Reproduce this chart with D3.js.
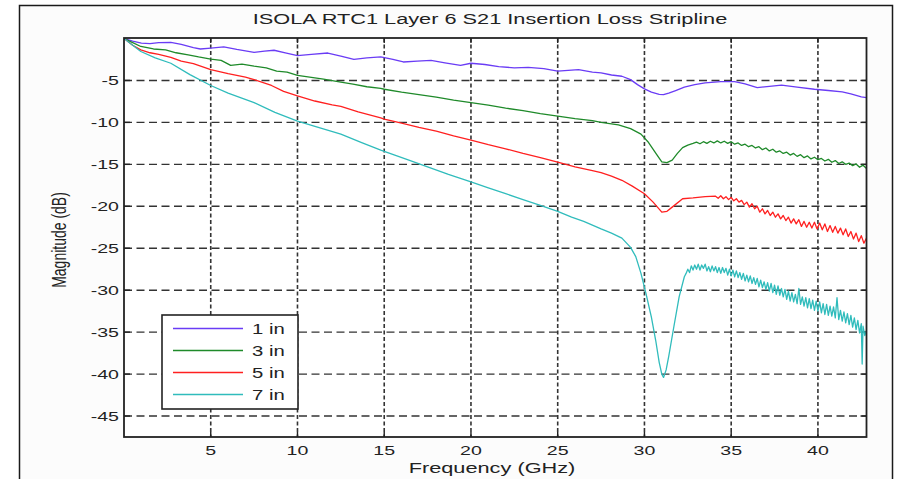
<!DOCTYPE html>
<html>
<head>
<meta charset="utf-8">
<script src="https://cdn.jsdelivr.net/npm/d3@7"></script>
<style>
  body { margin: 0; background: #fff; }
  svg { display: block; }
  text { font-family: "Liberation Sans", Arial, sans-serif; fill: #222; }
</style>
</head>
<body>
<svg width="906" height="479"></svg>
<script>
// values, [GHz, dB]
var series1in = [[0,0],[0.5,-0.3],[1,-0.55],[1.5,-0.6],[2,-0.5],[2.7,-0.45],[3.3,-0.7],[4,-1.1],[4.4,-1.25],[5,-1.15],[5.75,-1.0],[6.5,-1.3],[7.5,-1.65],[8.1,-1.5],[8.65,-1.4],[9.3,-1.7],[10,-2.05],[10.8,-1.9],[11.75,-1.73],[12.5,-2.1],[13.25,-2.5],[14,-2.3],[14.8,-2.2],[15.5,-2.5],[16.1,-2.8],[16.9,-2.7],[17.7,-2.6],[18.5,-2.9],[19.4,-3.2],[20,-2.95],[20.8,-3.1],[21.6,-3.35],[22.5,-3.5],[23.3,-3.45],[24.2,-3.6],[25,-3.9],[25.6,-3.8],[26.2,-3.7],[27,-4.0],[27.5,-4.1],[28.1,-4.35],[28.7,-4.5],[29.2,-4.9],[29.6,-5.5],[30,-6.0],[30.4,-6.4],[30.85,-6.65],[31.1,-6.7],[31.4,-6.5],[31.8,-6.2],[32.3,-5.8],[32.9,-5.5],[33.5,-5.3],[34.4,-5.15],[35.2,-5.15],[35.8,-5.4],[36.5,-5.85],[37.2,-5.7],[37.9,-5.55],[38.8,-5.8],[39.8,-6.05],[40.6,-6.2],[41.4,-6.35],[41.9,-6.6],[42.5,-6.95],[42.8,-7.05]]

var series3in = [[0,0],[0.5,-0.5],[0.97,-0.95],[1.7,-1.25],[2.4,-1.35],[3,-1.7],[3.7,-1.95],[4.3,-2.2],[5,-2.45],[5.6,-2.6],[6.15,-3.2],[6.8,-3.05],[7.5,-3.3],[8.2,-3.5],[8.8,-3.9],[9.4,-4.0],[10,-4.4],[10.7,-4.6],[11.5,-4.85],[12.5,-5.2],[13.2,-5.45],[14,-5.75],[14.8,-5.95],[15,-6.05],[16,-6.4],[17,-6.7],[18,-7.0],[19,-7.35],[20,-7.65],[21,-7.95],[22,-8.3],[23,-8.6],[24,-8.95],[25,-9.25],[26,-9.55],[27,-9.8],[27.5,-10.0],[28.5,-10.3],[29.2,-10.75],[29.8,-11.4],[30.2,-12.3],[30.7,-13.8],[31,-14.7],[31.3,-14.8],[31.6,-14.5],[31.9,-13.7],[32.2,-13.0],[32.5,-12.7],
  [32.8,-12.5],[33.0,-12.35],[33.2,-12.55],[33.4,-12.3],[33.6,-12.5],[33.8,-12.25],[34.0,-12.45],[34.2,-12.2],[34.4,-12.45],[34.6,-12.25],[34.8,-12.5],[35.0,-12.3],[35.2,-12.6],[35.4,-12.45],[35.6,-12.75],[35.8,-12.6],[36.0,-12.9],[36.2,-12.75],[36.4,-13.05],[36.6,-12.9],[36.8,-13.25],[37.0,-13.05],[37.2,-13.4],[37.4,-13.2],[37.6,-13.55],[37.8,-13.4],[38.0,-13.7],[38.2,-13.55],[38.4,-13.9],[38.6,-13.7],[38.8,-14.05],[39.0,-13.85],[39.2,-14.2],[39.4,-14.0],[39.6,-14.35],[39.8,-14.15],[40.0,-14.45],[40.2,-14.3],[40.4,-14.6],[40.6,-14.4],[40.8,-14.75],[41.0,-14.55],[41.2,-14.9],[41.4,-14.7],[41.6,-15.0],[41.8,-14.85],[42.0,-15.15],[42.2,-14.95],[42.4,-15.35],[42.6,-15.1],[42.8,-15.5]]

var series5in = [[0,0],[0.5,-0.8],[0.97,-1.35],[1.5,-1.7],[2.0,-1.9],[2.7,-2.25],[3.3,-2.7],[4,-3.0],[5,-3.7],[6,-4.2],[7,-4.6],[7.5,-4.9],[8.5,-5.6],[9.2,-6.3],[10,-6.85],[11,-7.45],[12,-7.9],[12.5,-8.1],[13.5,-8.75],[14.8,-9.45],[15,-9.6],[16,-10.1],[17,-10.6],[18,-11.05],[19,-11.6],[20,-12.1],[21,-12.65],[22,-13.15],[23,-13.7],[24,-14.2],[25,-14.75],[26,-15.3],[27,-15.75],[27.5,-16.0],[28.1,-16.4],[28.7,-16.9],[29.3,-17.6],[30,-18.5],[30.5,-19.5],[31,-20.7],[31.3,-20.6],[31.6,-20.1],[32.2,-19.1],[32.8,-19.0],[33.5,-18.85],
  [34.1,-18.8],[34.25,-19.05],[34.4,-18.75],[34.55,-19.1],[34.7,-18.85],[34.85,-19.2],[35.0,-18.95],[35.15,-19.35],[35.3,-19.1],[35.45,-19.5],[35.6,-19.3],[35.75,-19.8],[35.9,-19.5],[36.05,-20.1],[36.2,-19.7],[36.35,-20.3],[36.5,-20.0],[36.65,-20.7],[36.8,-20.3],[36.95,-20.9],[37.1,-20.5],[37.25,-21.1],[37.4,-20.7],[37.55,-21.3],[37.7,-20.9],[37.85,-21.5],[38.0,-21.1],[38.15,-21.7],[38.3,-21.3],[38.45,-22.0],[38.6,-21.5],[38.75,-22.1],[38.9,-21.6],[39.05,-22.4],[39.2,-21.8],[39.35,-22.5],[39.5,-21.9],[39.65,-22.6],[39.8,-21.9],[39.95,-22.7],[40.1,-22.0],[40.25,-22.8],[40.4,-22.1],[40.55,-23.0],[40.7,-22.3],[40.85,-23.1],[41.0,-22.4],[41.15,-23.2],[41.3,-22.6],[41.45,-23.4],[41.6,-22.7],[41.75,-23.6],[41.9,-23.0],[42.05,-23.9],[42.2,-23.2],[42.35,-24.2],[42.5,-23.5],[42.65,-24.4],[42.8,-23.8]]

var series7in = [[0,0],[0.5,-0.8],[0.97,-1.55],[1.8,-2.3],[2.7,-2.95],[3.8,-4.3],[5,-5.6],[6,-6.5],[7.5,-7.65],[8.7,-8.8],[10,-9.85],[11.2,-10.6],[12.5,-11.4],[13.7,-12.4],[14.8,-13.3],[15,-13.45],[16.3,-14.4],[17.5,-15.3],[18.7,-16.2],[20,-17.1],[21,-17.8],[22,-18.5],[23,-19.2],[24,-19.9],[25,-20.6],[25.8,-21.3],[26.5,-21.8],[27.5,-22.7],[28.1,-23.2],[28.7,-23.8],[29.2,-24.9],[29.5,-26.0],[29.8,-28.0],[30.1,-30.5],[30.4,-33.2],[30.65,-36.0],[30.85,-38.6],[31.0,-40.0],[31.1,-40.4],[31.25,-39.5],[31.4,-37.9],[31.7,-34.3],[32.0,-30.8],[32.3,-28.4],
  [32.4,-28.0],[32.5,-27.5],[32.6,-27.9],[32.7,-27.1],[32.8,-27.6],[32.9,-27.0],[33.0,-27.5],[33.1,-26.9],[33.2,-27.6],[33.3,-27.0],[33.4,-27.4],[33.5,-26.9],[33.6,-27.7],[33.7,-27.2],[33.8,-27.8],[33.9,-27.1],[34.0,-27.7],[34.1,-27.2],[34.2,-27.9],[34.3,-27.3],[34.4,-28.0],[34.5,-27.3],[34.6,-27.9],[34.7,-27.4],[34.8,-28.2],[34.9,-27.5],[35.0,-28.3],[35.1,-27.6],[35.2,-28.4],[35.3,-27.7],[35.4,-28.5],[35.5,-27.9],[35.6,-28.7],[35.7,-28.0],[35.8,-28.9],[35.9,-28.2],[36.0,-29.0],[36.1,-28.3],[36.2,-29.2],[36.3,-28.5],[36.4,-29.3],[36.5,-28.6],[36.6,-29.6],[36.7,-28.8],[36.8,-29.7],[36.9,-29.0],[37.0,-29.9],[37.1,-29.1],[37.2,-30.1],[37.3,-29.2],[37.4,-30.3],[37.5,-29.4],[37.6,-30.5],[37.7,-29.5],[37.8,-30.6],[37.9,-29.8],[38.0,-30.8],[38.1,-29.9],[38.2,-31.1],[38.3,-30.1],[38.4,-31.3],[38.5,-30.3],[38.6,-31.4],[38.7,-30.5],[38.8,-31.6],[38.9,-29.8],[39.0,-31.7],[39.1,-30.8],[39.2,-31.9],[39.3,-30.9],[39.4,-32.1],[39.5,-31.0],[39.6,-32.2],[39.7,-31.2],[39.8,-32.4],[39.9,-31.3],[40.0,-32.5],[40.1,-31.4],[40.2,-32.7],[40.3,-31.6],[40.4,-32.9],[40.5,-31.7],[40.6,-33.0],[40.7,-31.9],[40.8,-33.1],[40.9,-32.0],[41.0,-33.3],[41.1,-30.9],[41.2,-33.5],[41.3,-32.4],[41.4,-33.7],[41.5,-32.6],[41.6,-33.9],[41.7,-32.8],[41.8,-34.1],[41.9,-33.0],[42.0,-34.4],[42.1,-33.3],[42.2,-34.7],[42.3,-33.6],[42.4,-35.1],[42.5,-34.0],[42.55,-38.8],[42.6,-34.3],[42.7,-35.4],[42.8,-34.8]]

var seriesNames = ['1 in', '3 in', '5 in', '7 in']
var seriesColors = ['#6a3cf5', '#1f8a2a', '#ff2020', '#30bcbc']
var xTicks = [5, 10, 15, 20, 25, 30, 35, 40]
var yTicks = [-5, -10, -15, -20, -25, -30, -35, -40, -45]

var svg = d3.select('svg')
var plot = { left: 124, top: 38, right: 866.5, bottom: 437 }
var stretch = 1.45

var x = d3.scaleLinear().domain([0, 42.8]).range([plot.left, plot.right])
var y = d3.scaleLinear().domain([-47.5, 0]).range([plot.bottom, plot.top + 0.5])

function label (px, py, str, anchor, size) {
  return svg.append('text')
    .attr('transform', `translate(${px},${py}) scale(${stretch},1)`)
    .attr('text-anchor', anchor)
    .style('font-size', size + 'px')
    .text(str)
}

// figure frame
svg.append('rect')
  .attr('x', 19.5).attr('y', 5.5)
  .attr('width', 873).attr('height', 500)
  .attr('fill', '#fcfcfc')
  .attr('stroke', '#1a1a1a')
  .attr('stroke-width', 1.5)

svg.append('rect')
  .attr('x', plot.left).attr('y', plot.top)
  .attr('width', plot.right - plot.left).attr('height', plot.bottom - plot.top)
  .attr('fill', '#fff')

// grid
svg.append('g').selectAll('line')
  .data(yTicks).enter().append('line')
  .attr('x1', plot.left).attr('x2', plot.right)
  .attr('y1', d => y(d)).attr('y2', d => y(d))
  .attr('stroke', '#333').attr('stroke-width', 1.4)
  .attr('stroke-dasharray', '8,4.5')

svg.append('g').selectAll('line')
  .data(xTicks).enter().append('line')
  .attr('x1', d => x(d)).attr('x2', d => x(d))
  .attr('y1', plot.top).attr('y2', plot.bottom)
  .attr('stroke', '#333').attr('stroke-width', 1.6)
  .attr('stroke-dasharray', '4,2.5')

// tick marks on all four sides
var ticks = svg.append('g').attr('stroke', '#222').attr('stroke-width', 1.4)
yTicks.forEach(function (d) {
  ticks.append('line').attr('x1', plot.left).attr('x2', plot.left + 6).attr('y1', y(d)).attr('y2', y(d))
  ticks.append('line').attr('x1', plot.right - 6).attr('x2', plot.right).attr('y1', y(d)).attr('y2', y(d))
})
xTicks.forEach(function (d) {
  ticks.append('line').attr('x1', x(d)).attr('x2', x(d)).attr('y1', plot.bottom - 5).attr('y2', plot.bottom)
  ticks.append('line').attr('x1', x(d)).attr('x2', x(d)).attr('y1', plot.top).attr('y2', plot.top + 5)
})

// curves
svg.append('clipPath').attr('id', 'clip').append('rect')
  .attr('x', plot.left).attr('y', plot.top)
  .attr('width', plot.right - plot.left).attr('height', plot.bottom - plot.top)

var line = d3.line().x(d => x(d[0])).y(d => y(d[1]))
var allSeries = [series1in, series3in, series5in, series7in]

svg.append('g').attr('clip-path', 'url(#clip)')
  .selectAll('path')
  .data(allSeries).enter().append('path')
  .attr('d', line)
  .attr('fill', 'none')
  .attr('stroke', (d, i) => seriesColors[i])
  .attr('stroke-width', 1.3)
  .attr('stroke-linejoin', 'round')

// plot box
svg.append('rect')
  .attr('x', plot.left).attr('y', plot.top)
  .attr('width', plot.right - plot.left).attr('height', plot.bottom - plot.top)
  .attr('fill', 'none').attr('stroke', '#222').attr('stroke-width', 1.8)

// tick labels
xTicks.forEach(d => label(x(d), 455, d, 'middle', 13.5))
yTicks.forEach(d => label(119, y(d) + 5, d, 'end', 13.5))

// titles
label(490, 24, 'ISOLA RTC1 Layer 6 S21 Insertion Loss Stripline', 'middle', 15)
label(492, 473, 'Frequency (GHz)', 'middle', 15)
svg.append('text')
  .attr('transform', `translate(66,240) scale(${stretch},1) rotate(-90)`)
  .attr('text-anchor', 'middle')
  .style('font-size', '14px')
  .text('Magnitude (dB)')

// legend
var legend = svg.append('g')
legend.append('rect')
  .attr('x', 162).attr('y', 315).attr('width', 136).attr('height', 94)
  .attr('fill', '#fff').attr('stroke', '#222').attr('stroke-width', 1.6)

var rowY = d3.scalePoint().domain(seriesNames).range([328.5, 394.5])
seriesNames.forEach(function (name, i) {
  legend.append('line')
    .attr('x1', 173).attr('x2', 243)
    .attr('y1', rowY(name)).attr('y2', rowY(name))
    .attr('stroke', seriesColors[i]).attr('stroke-width', 1.5)
  label(252, rowY(name) + 5, name, 'start', 14)
})
</script>
</body>
</html>
